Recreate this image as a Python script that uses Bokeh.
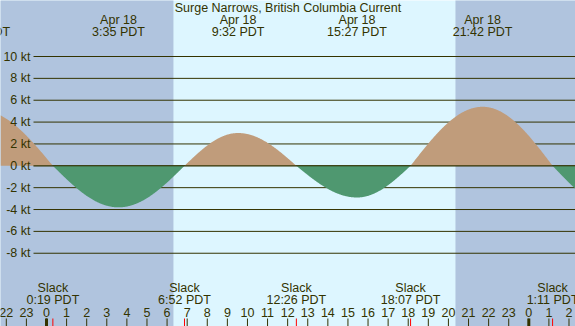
import numpy as np
from bokeh.plotting import figure
from bokeh.models import Range1d
from bokeh.core.properties import value
from bokeh.embed import file_html
from bokeh.resources import INLINE

# ---------------- data (times in PDT) ----------------
title = "Surge Narrows, British Columbia Current"

max_dates = ["Apr 17", "Apr 18", "Apr 18", "Apr 18", "Apr 18", "Apr 19"]
max_clock = ["20:42", "3:35", "9:32", "15:27", "21:42", "4:35"]
max_day = [-1, 0, 0, 0, 0, 1]            # day offset relative to Apr 18
max_knots = [5.1, -3.8, 3.0, -2.9, 5.4, -4.2]

slack_clock = ["0:19", "6:52", "12:26", "18:07", "1:11"]
slack_day = [0, 0, 0, 0, 1]

sunrise_clock = "6:19"
sunset_clock = "20:21"

y_ticks = [10, 8, 6, 4, 2, 0, -2, -4, -6, -8]
y_tick_labels = ["10 kt", "8 kt", "6 kt", "4 kt", "2 kt", "0 kt",
                 "-2 kt", "-4 kt", "-6 kt", "-8 kt"]

hour_ticks = [-2, -1, 0, 1, 2, 3, 4, 5, 6, 7, 8, 9, 10, 11, 12, 13, 14,
              15, 16, 17, 18, 19, 20, 21, 22, 23, 24, 25, 26]
hour_labels = ["22", "23", "0", "1", "2", "3", "4", "5", "6", "7", "8", "9",
               "10", "11", "12", "13", "14", "15", "16", "17", "18", "19",
               "20", "21", "22", "23", "0", "1", "2"]
midnights = [0, 24]

# ---------------- styles / layout ----------------
NIGHT = "#B0C4DE"
DAY = "#DDF6FF"
FLOOD = "#C09C7B"
EBB = "#4F9870"
INK = "#333300"
FONT = value("Liberation Sans")
FS = "12.5px"

REF_W, REF_H = 575, 326
X0, PX_PER_H = 46.0, 20.096     # pixel of Apr 18 0:00, pixels per hour
Y0, PX_PER_KT = 165.3, 10.93    # pixel of 0 kt, pixels per knot


def tx(px):
    return (px - X0) / PX_PER_H


def vy(py):
    return (Y0 - py) / PX_PER_KT


def hours(clock, day=0):
    h, m = clock.split(":")
    return 24 * day + int(h) + int(m) / 60.0


t_left, t_right = tx(0), tx(REF_W)
v_top, v_bot = vy(0), vy(REF_H)

max_t = [hours(c, d) for c, d in zip(max_clock, max_day)]
slack_t = [hours(c, d) for c, d in zip(slack_clock, slack_day)]
sunrise = hours(sunrise_clock)
sunset = hours(sunset_clock)

# events in time order: slack -> max -> slack ...
ev = sorted([(t, v) for t, v in zip(max_t, max_knots)] + [(t, 0.0) for t in slack_t])
ev_t = np.array([e[0] for e in ev])
ev_v = np.array([e[1] for e in ev])

# render the current curve between events (quarter-wave shape)
tt = np.linspace(t_left, t_right, 1400)
vv = np.zeros_like(tt)
for k, t in enumerate(tt):
    i = np.searchsorted(ev_t, t) - 1
    i = min(max(i, 0), len(ev_t) - 2)
    s = (t - ev_t[i]) / (ev_t[i + 1] - ev_t[i])
    if ev_v[i] == 0.0:
        vv[k] = ev_v[i + 1] * np.sin(np.pi / 2 * s)
    else:
        vv[k] = ev_v[i] * np.cos(np.pi / 2 * s)


def visible(t, half_w_h):
    return t_left - half_w_h < t < t_right + half_w_h


# ---------------- figure ----------------
p = figure(width=REF_W, height=REF_H, x_range=Range1d(t_left, t_right),
           y_range=Range1d(v_bot, v_top), toolbar_location=None,
           output_backend="svg", x_axis_type=None, y_axis_type=None,
           min_border=0, background_fill_color=DAY, border_fill_color=DAY)
p.grid.visible = False
p.outline_line_color = None

# night shading
p.quad(left=[t_left - 1, sunset], right=[sunrise, t_right + 1],
       bottom=v_bot - 1, top=v_top + 1, color=NIGHT, line_color=None)

# grid lines (behind the fills)
gx0 = tx(33)
p.segment(x0=gx0, x1=t_right + 1, y0=y_ticks, y1=y_ticks, line_color=INK, line_width=1)

# flood / ebb fills
p.varea(x=tt, y1=0, y2=np.maximum(vv, 0), fill_color=FLOOD)
p.varea(x=tt, y1=np.minimum(vv, 0), y2=0, fill_color=EBB)

# zero line on top
p.segment(x0=[gx0], x1=[t_right + 1], y0=[0], y1=[0], line_color=INK, line_width=1)

# y labels
p.text(x=tx(30), y=y_ticks, text=y_tick_labels, text_font=FONT, text_font_size=FS,
       text_color=INK, text_align="right", text_baseline="middle")

# title
p.text(x=[tx(REF_W / 2)], y=[vy(7)], text=[title], text_font=FONT,
       text_font_size=FS, text_color=INK, text_align="center", text_baseline="middle")

# max current labels (top)
d_x = [t for t in max_t if visible(t, 0.9)]
d_s = [d for t, d in zip(max_t, max_dates) if visible(t, 0.9)]
c_x = [t for t in max_t if visible(t, 1.5)]
c_s = [c + " PDT" for t, c in zip(max_t, max_clock) if visible(t, 1.5)]
p.text(x=d_x, y=vy(19.5), text=d_s, text_font=FONT, text_font_size=FS,
       text_color=INK, text_align="center", text_baseline="middle")
p.text(x=c_x, y=vy(31.5), text=c_s, text_font=FONT,
       text_font_size=FS, text_color=INK, text_align="center", text_baseline="middle")

# slack labels (bottom)
p.text(x=slack_t, y=vy(287.5), text=["Slack"] * len(slack_t), text_font=FONT,
       text_font_size=FS, text_color=INK, text_align="center", text_baseline="middle")
p.text(x=slack_t, y=vy(299.5), text=[c + " PDT" for c in slack_clock], text_font=FONT,
       text_font_size=FS, text_color=INK, text_align="center", text_baseline="middle")

# hour labels and ticks
p.text(x=hour_ticks, y=vy(311.5), text=hour_labels, text_font=FONT, text_font_size=FS,
       text_color=INK, text_align="center", text_baseline="middle")
p.segment(x0=hour_ticks, x1=hour_ticks, y0=vy(318), y1=vy(327), line_color=INK, line_width=1)
p.segment(x0=midnights, x1=midnights, y0=vy(318), y1=vy(327), line_color=INK, line_width=3)
p.segment(x0=slack_t, x1=slack_t, y0=vy(318), y1=vy(327), line_color="red", line_width=1)

open("out.html", "w").write(file_html(p, INLINE))
